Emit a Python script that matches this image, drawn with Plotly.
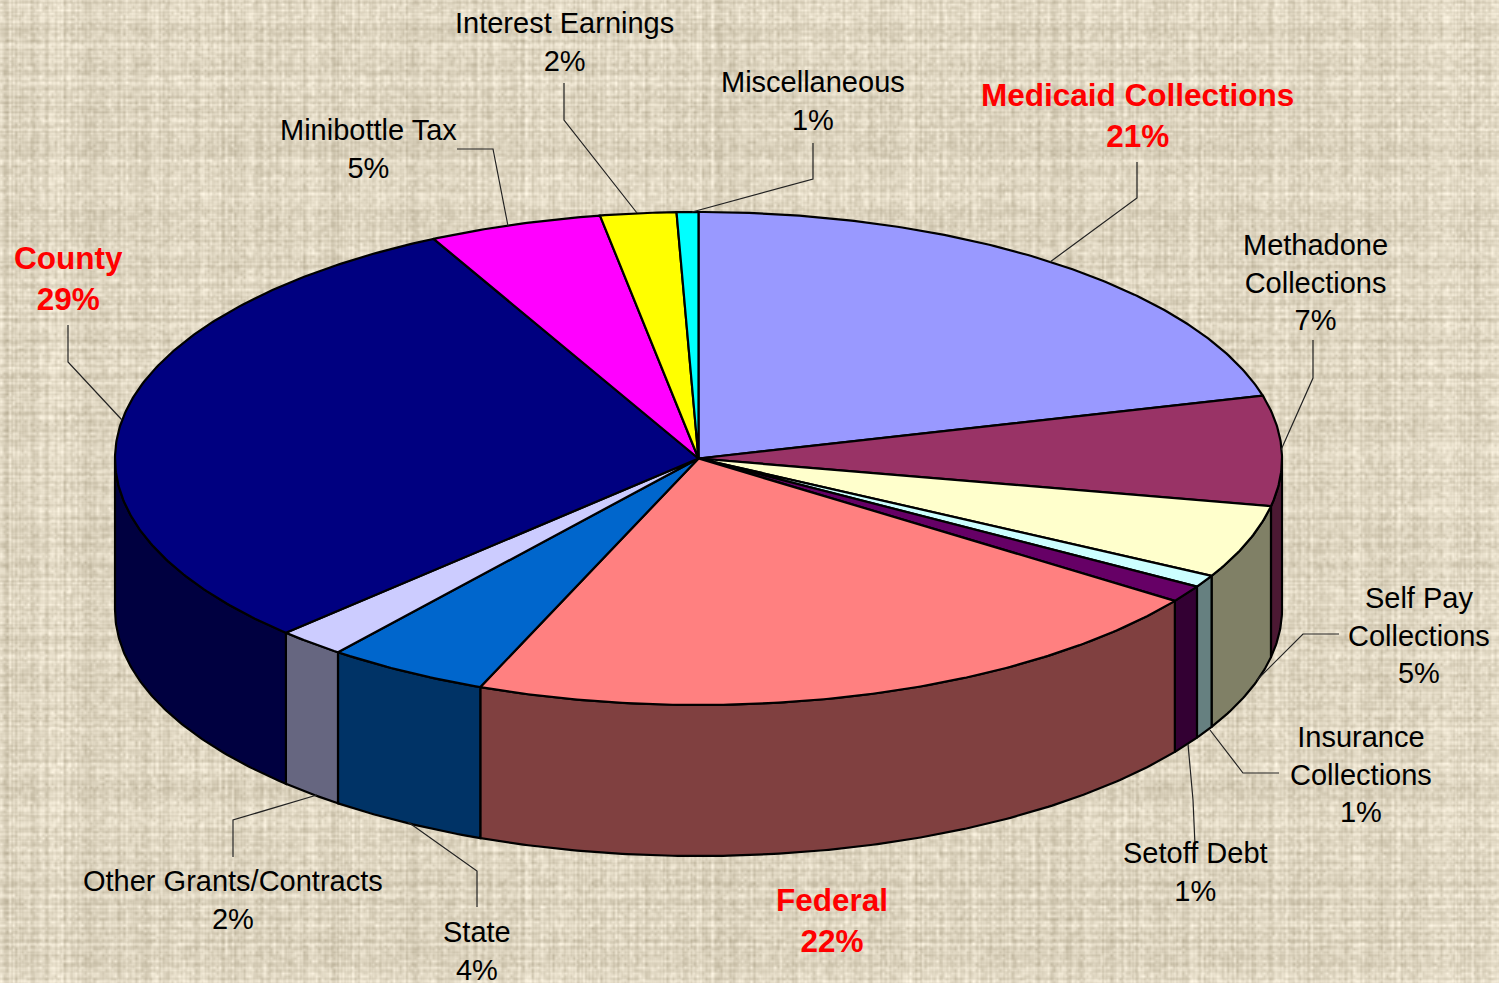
import base64, struct, zlib
import numpy as np
import plotly.graph_objects as go

# ---- data ----
categories = ["Medicaid Collections", "Methadone Collections", "Self Pay Collections",
              "Insurance Collections", "Setoff Debt", "Federal", "State",
              "Other Grants/Contracts", "County", "Minibottle Tax",
              "Interest Earnings", "Miscellaneous"]
shares = [20.9, 7.2, 4.8, 0.8, 1.1, 21.3, 4.5, 1.9, 30.0, 4.8, 2.1, 0.6]
percent_labels = ["21%", "7%", "5%", "1%", "1%", "22%", "4%", "2%", "29%", "5%", "2%", "1%"]
top_colors = ["#9999FF", "#993366", "#FFFFCC", "#CCFFFF", "#660066", "#FF8080",
              "#0066CC", "#CCCCFF", "#000080", "#FF00FF", "#FFFF00", "#00FFFF"]
side_colors = ["#4D4D80", "#4C1933", "#808066", "#668080", "#330033", "#804040",
               "#003366", "#666680", "#000040", "#800080", "#808000", "#008080"]
label_text = ["Medicaid Collections", "Methadone<br>Collections", "Self Pay<br>Collections",
              "Insurance<br>Collections", "Setoff Debt", "Federal", "State",
              "Other Grants/Contracts", "County", "Minibottle Tax",
              "Interest Earnings", "Miscellaneous"]
highlight = {"Medicaid Collections", "Federal", "County"}

# ---- layout constants ----
W, H = 1499, 983
CX, CY, RX, RY, DEPTH = 698.5, 458.5, 583.5, 246.5, 151
label_pos = {
    "Medicaid Collections": (1137, 115), "Methadone Collections": (1315, 282.5),
    "Self Pay Collections": (1419, 635), "Insurance Collections": (1361, 774),
    "Setoff Debt": (1195, 872), "Federal": (832, 920), "State": (477, 951),
    "Other Grants/Contracts": (233, 899.5), "County": (68, 278),
    "Minibottle Tax": (368, 148.5), "Interest Earnings": (564, 41.5),
    "Miscellaneous": (813, 101),
}
leaders = [
    [(1137, 162), (1137, 198), (1050, 262)], [(1313, 340), (1313, 378), (1281, 450)],
    [(1339, 634), (1303, 634), (1257, 680)], [(1279, 773), (1243, 773), (1210, 730)],
    [(1195, 845), (1193, 800), (1188, 744)], [(477, 907), (477, 871), (408, 822)],
    [(233, 857), (233, 820), (317, 795)], [(68, 325), (68, 362), (122, 420)],
    [(457, 149), (493, 149), (508, 226)], [(564, 83), (564, 120), (637, 213)],
    [(813, 143), (813, 179), (692, 212)],
]


def texture_uri():
    """Woven beige backdrop, encoded as a PNG (decoration only, not chart data)."""
    def hash1(n, k):
        v = np.sin(np.arange(n) * k + 1.3) * 43758.5453
        return v - np.floor(v)

    def smooth(a, r):
        ker = np.ones(r) / r
        return np.apply_along_axis(lambda s: np.convolve(s, ker, "same"), 0, a)

    cols = np.convolve(hash1(W, 12.9898) - .5, [.25, .5, .25], "same")
    rows = np.convolve(hash1(H, 78.233) - .5, [.25, .5, .25], "same")
    gx, gy = np.meshgrid(np.arange(W), np.arange(H))
    ci = (gx // 3) * 127.1 + (gy // 3) * 311.7
    c = np.sin(ci) * 43758.5453
    c = c - np.floor(c) - .5
    c = smooth(smooth(c, 3).T, 3).T
    v = 30 * rows[:, None] + 30 * cols[None, :] + 26 * c
    base = np.array([222.0, 213.0, 192.0])
    tint = np.array([1.0, 1.03, 1.12])
    img = np.clip(base[None, None, :] + v[:, :, None] * tint[None, None, :], 0, 255).astype(np.uint8)
    raw = b"".join(b"\x00" + img[y].tobytes() for y in range(H))

    def chunk(t, d):
        return struct.pack(">I", len(d)) + t + d + struct.pack(">I", zlib.crc32(t + d))
    png = (b"\x89PNG\r\n\x1a\n" + chunk(b"IHDR", struct.pack(">IIBBBBB", W, H, 8, 2, 0, 0, 0))
           + chunk(b"IDAT", zlib.compress(raw, 9)) + chunk(b"IEND", b""))
    return "data:image/png;base64," + base64.b64encode(png).decode()


def arc(a0, a1):
    n = max(2, int(abs(a1 - a0) * 2) + 2)
    t = np.radians(np.linspace(a0, a1, n))
    return CX + RX * np.sin(t), CY - RY * np.cos(t)


fig = go.Figure()
total = sum(shares)
edges = np.concatenate([[0], np.cumsum(shares)]) / total * 360

# side walls: only the front half of the rim (90..270 deg clockwise from top)
for i in range(len(shares)):
    a0, a1 = max(edges[i], 90), min(edges[i + 1], 270)
    if a1 <= a0:
        continue
    x, y = arc(a0, a1)
    fig.add_trace(go.Scatter(
        x=np.concatenate([x, x[::-1], x[:1]]),
        y=np.concatenate([y, y[::-1] + DEPTH, y[:1]]),
        mode="lines", fill="toself", fillcolor=side_colors[i],
        line=dict(color="black", width=2.2), hoverinfo="skip", showlegend=False))

# top face
for i in range(len(shares)):
    x, y = arc(edges[i], edges[i + 1])
    fig.add_trace(go.Scatter(
        x=np.concatenate([[CX], x, [CX]]), y=np.concatenate([[CY], y, [CY]]),
        mode="lines", fill="toself", fillcolor=top_colors[i],
        line=dict(color="black", width=2.2), name=categories[i], showlegend=False))

shapes = []
for pts in leaders:
    path = "M" + " L".join(f"{x},{y}" for x, y in pts)
    shapes.append(dict(type="path", path=path, xref="x", yref="y",
                       line=dict(color="#222222", width=1.2)))

annotations = []
for i, cat in enumerate(categories):
    hot = cat in highlight
    text = f"{label_text[i]}<br>{percent_labels[i]}"
    if hot:
        text = f"<b>{label_text[i]}</b><br><b>{percent_labels[i]}</b>"
    x, y = label_pos[cat]
    annotations.append(dict(x=x, y=y, xref="x", yref="y", text=text, showarrow=False,
                            xanchor="center", yanchor="middle", align="center",
                            font=dict(family="Liberation Sans", size=31.5 if hot else 29,
                                      color="#FF0000" if hot else "#000000")))

fig.update_layout(
    width=W, height=H, margin=dict(l=0, r=0, t=0, b=0), autosize=False,
    paper_bgcolor="#DDD3BE", plot_bgcolor="rgba(0,0,0,0)",
    xaxis=dict(range=[0, W], visible=False, fixedrange=True),
    yaxis=dict(range=[H, 0], visible=False, fixedrange=True),
    shapes=shapes, annotations=annotations,
    images=[dict(source=texture_uri(), xref="paper", yref="paper", x=0, y=1,
                 sizex=1, sizey=1, xanchor="left", yanchor="top",
                 sizing="stretch", layer="below")],
)
fig.write_html("out.html", config=dict(displayModeBar=False),
               post_script="document.body.style.margin='0';document.body.style.overflow='hidden';")
